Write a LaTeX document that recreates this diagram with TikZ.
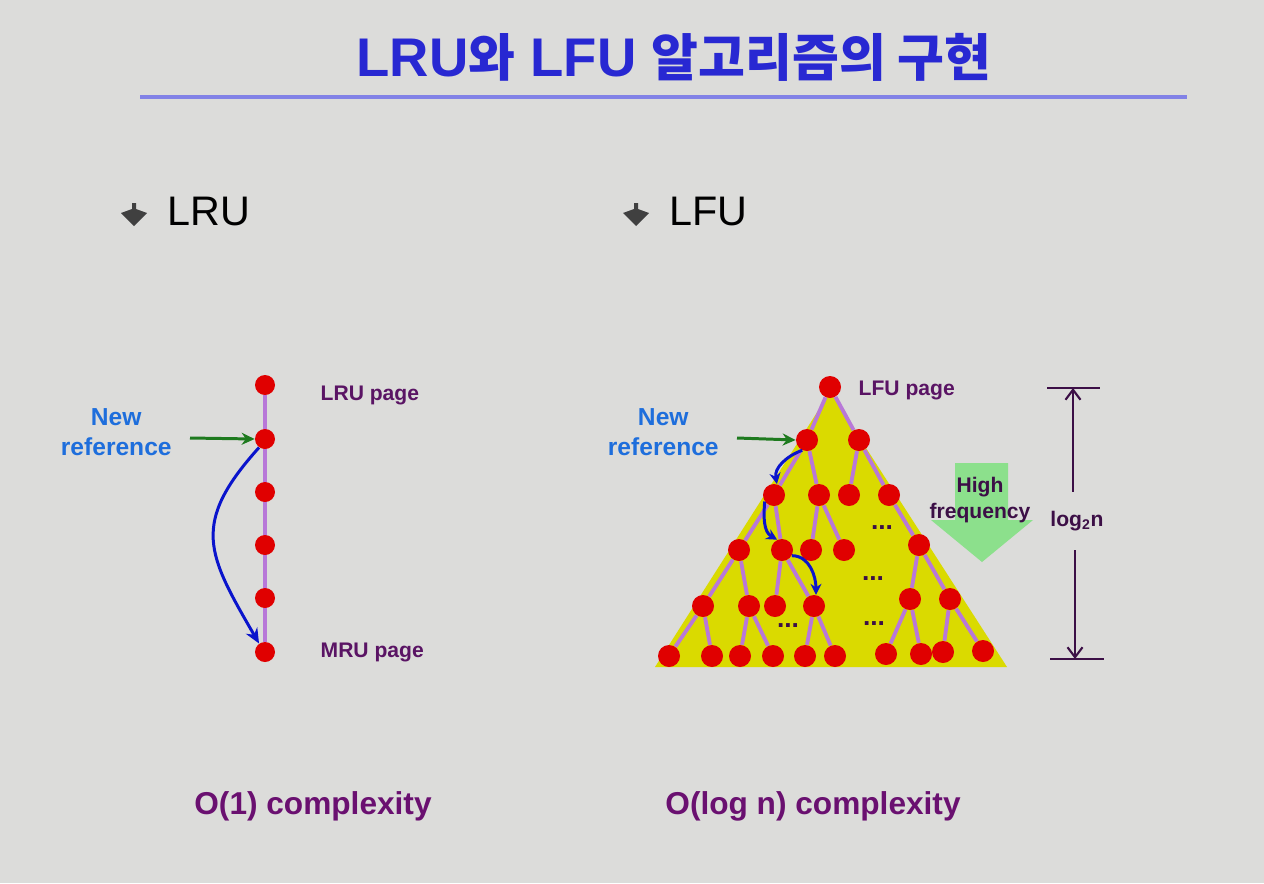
\documentclass[tikz,border=0pt]{standalone}
\usepackage{fontspec}
\setmainfont{Liberation Sans}
\newfontfamily\krfont{Noto Sans CJK KR}
\usetikzlibrary{arrows.meta,positioning,backgrounds}

\definecolor{slidebg}{HTML}{DCDCDA}
\definecolor{pgred}{HTML}{E00000}
\definecolor{lnkpurple}{HTML}{B878D8}
\definecolor{triyellow}{HTML}{DADA00}
\definecolor{lblpurple}{HTML}{5A1464}
\definecolor{cpxpurple}{HTML}{6A1070}
\definecolor{refblue}{HTML}{1E6EDC}
\definecolor{arrblue}{HTML}{0A14CC}
\definecolor{arrgreen}{HTML}{1E7A1E}
\definecolor{hfgreen}{HTML}{8CE08C}
\definecolor{dimpurple}{HTML}{3C0F46}
\definecolor{ttlblue}{HTML}{2828D2}
\definecolor{ttlline}{HTML}{8282E6}

\begin{document}
\begin{tikzpicture}[x=0.02cm, y=-0.02cm,
  node distance=9mm,
  pg/.style={circle, fill=pgred, inner sep=0pt, minimum size=4.4mm},
  lpg/.style={pg, minimum size=4mm},
  lnk/.style={draw=lnkpurple, line width=2.2pt},
  lbl/.style={inner sep=0pt, text=lblpurple, font=\bfseries\fontsize{12}{14}\selectfont},
  ref/.style={inner sep=0pt, align=center, text=refblue, font=\bfseries\fontsize{14}{17}\selectfont},
  cpx/.style={inner sep=0pt, text=cpxpurple, font=\bfseries\fontsize{18}{22}\selectfont},
  head/.style={inner sep=0pt, anchor=west, font=\fontsize{23.5}{27}\selectfont},
  dots/.style={inner sep=0pt, text=dimpurple, font=\bfseries\fontsize{15}{16}\selectfont},
  garr/.style={draw=arrgreen, line width=1.7pt, -{Stealth[length=2.6mm,width=2.4mm]}},
  barr/.style={draw=arrblue, line width=1.7pt, -{Stealth[length=2.2mm,width=2.2mm]}},
  dim/.style={draw=dimpurple, line width=1.2pt},
  dimarr/.style={dim, -{Straight Barb[length=2mm,width=3mm]}}
]
\useasboundingbox (0,0) rectangle (1264,883);
\begin{scope}[on background layer]
  \fill[slidebg] (0,0) rectangle (1264,883);
  \fill[triyellow] (830,392) -- (655,667) -- (1007,667) -- cycle;
\end{scope}

% title
\node[inner sep=0pt, text=ttlblue, font=\bfseries\fontsize{31}{36}\selectfont] (ttl) at (674,57)
  {LRU{\krfont\fontsize{29}{34}\selectfont 와} LFU {\krfont\fontsize{29}{34}\selectfont 알고리즘의 구현}};
\draw[draw=ttlline, line width=2.3pt] (140,97) -- (1187,97);

% bullets
\fill[black!75] (132,203) -- (136,203) -- (136,209) -- (147,213) -- (134,226) -- (121,213) -- (132,209) -- cycle;
\fill[black!75] (634,203) -- (638,203) -- (638,209) -- (649,213) -- (636,226) -- (623,213) -- (634,209) -- cycle;
\node[head] (hlru) at (167,211) {LRU};
\node[head] (hlfu) at (669,211) {LFU};

% LRU list
\node[lpg] (l1) at (265,385) {};
\node[lpg] (l2) at (265,439) {};
\node[lpg] (l3) at (265,492) {};
\node[lpg] (l4) at (265,545) {};
\node[lpg] (l5) at (265,598) {};
\node[lpg] (l6) at (265,652) {};
\begin{scope}[on background layer]
  \draw[lnk] (l1) -- (l6);
\end{scope}
\node[lbl, right=of l1, yshift=-2mm] (lrup) {LRU page};
\node[lbl, right=of l6] (mrup) {MRU page};
\coordinate (g1) at (190,438);
\node[ref, left=3.6mm of g1, yshift=1.2mm] (nr1) {New\\reference};
\draw[garr] (g1) -- (l2.west);
\draw[barr, -{Stealth[length=3mm,width=2.6mm]}] (l2.235) to[out=228,in=120,looseness=1.35] (l6.125);

% LFU tree
\node[pg] (r) at (830,387) {};
\node[pg] (a1) at (807,440) {};
\node[pg] (a2) at (859,440) {};
\node[pg] (b1) at (774,495) {};
\node[pg] (b2) at (819,495) {};
\node[pg] (b3) at (849,495) {};
\node[pg] (b4) at (889,495) {};
\node[pg] (c1) at (739,550) {};
\node[pg] (c2) at (782,550) {};
\node[pg] (c3) at (811,550) {};
\node[pg] (c4) at (844,550) {};
\node[pg] (c5) at (919,545) {};
\node[pg] (d1) at (703,606) {};
\node[pg] (d2) at (749,606) {};
\node[pg] (d3) at (775,606) {};
\node[pg] (d4) at (814,606) {};
\node[pg] (d5) at (910,599) {};
\node[pg] (d6) at (950,599) {};
\node[pg] (e1) at (669,656) {};
\node[pg] (e2) at (712,656) {};
\node[pg] (e3) at (740,656) {};
\node[pg] (e4) at (773,656) {};
\node[pg] (e5) at (805,656) {};
\node[pg] (e6) at (835,656) {};
\node[pg] (e7) at (886,654) {};
\node[pg] (e8) at (921,654) {};
\node[pg] (e9) at (943,652) {};
\node[pg] (e10) at (983,651) {};
\begin{scope}[on background layer]
  \foreach \p/\c in {r/a1, r/a2, a1/b1, a1/b2, a2/b3, a2/b4, b1/c1, b1/c2, b2/c3, b2/c4, b4/c5,
                     c1/d1, c1/d2, c2/d3, c2/d4, c5/d5, c5/d6, d1/e1, d1/e2, d2/e3, d2/e4,
                     d4/e5, d4/e6, d5/e7, d5/e8, d6/e9, d6/e10}
    \draw[lnk] (\p) -- (\c);
\end{scope}
\node[dots] (dt1) at (882,528) {...};
\node[dots] (dt2) at (873,579) {...};
\node[dots] (dt3) at (788,626) {...};
\node[dots] (dt4) at (874,624) {...};
\node[lbl, right=3.4mm of r, yshift=-0.6mm] (lfup) {LFU page};
\coordinate (g2) at (737,438);
\node[ref, left=3.6mm of g2, yshift=1.2mm] (nr2) {New\\reference};
\draw[garr] (g2) -- (a1.west);
\draw[barr] (a1.245) to[out=200,in=100] (b1.75);
\draw[barr] (b1.215) to[out=265,in=150] (c2.115);
\draw[barr] (c2.330) to[out=0,in=90] (d4.80);

% high frequency
\fill[hfgreen] (955,463) -- (1008,463) -- (1008,520) -- (1033,520) -- (982,562)
  -- (931,520) -- (955,520) -- cycle;
\node[lbl, align=center, text=dimpurple, font=\bfseries\fontsize{12}{14.5}\selectfont] (hf) at (980,500) {High\\frequency};

% height
\coordinate (dt) at (1073,388);
\coordinate (db) at (1075,659);
\draw[dim] (dt) ++(-26,0) -- ++(53,0);
\draw[dim] (db) ++(-25,0) -- ++(54,0);
\node[lbl, text=dimpurple, minimum height=11.6mm] (lg) at (1077,521) {log\textsubscript{2}n};
\draw[dimarr] (lg.north -| dt) -- (dt);
\draw[dimarr] (lg.south -| db) -- (db);

% complexity
\node[cpx] (cx1) at (313,806) {O(1) complexity};
\node[cpx] (cx2) at (813,806) {O(log n) complexity};
\end{tikzpicture}
\end{document}
